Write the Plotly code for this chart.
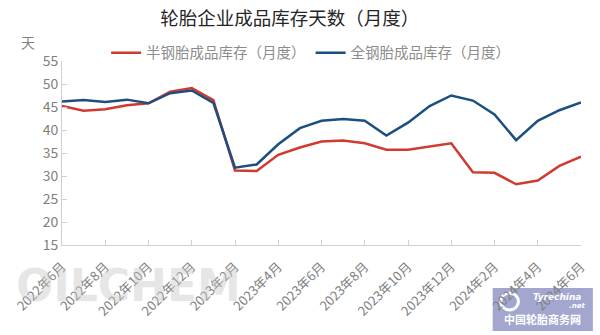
import plotly.graph_objects as go

months = [
    "2022年6月", "2022年7月", "2022年8月", "2022年9月", "2022年10月", "2022年11月",
    "2022年12月", "2023年1月", "2023年2月", "2023年3月", "2023年4月", "2023年5月",
    "2023年6月", "2023年7月", "2023年8月", "2023年9月", "2023年10月", "2023年11月",
    "2023年12月", "2024年1月", "2024年2月", "2024年3月", "2024年4月", "2024年5月",
    "2024年6月",
]
semi_steel = [45.2, 44.2, 44.5, 45.4, 45.8, 48.3, 49.1, 46.5, 31.2, 31.1, 34.6, 36.2,
              37.5, 37.7, 37.1, 35.7, 35.7, 36.4, 37.1, 30.8, 30.7, 28.2, 29.0, 32.2, 34.2]
all_steel = [46.2, 46.5, 46.1, 46.6, 45.8, 48.0, 48.6, 45.9, 31.8, 32.5, 36.9, 40.4,
             42.0, 42.4, 42.0, 38.8, 41.6, 45.2, 47.5, 46.4, 43.4, 37.8, 42.0, 44.3, 46.0]
y_ticks = [15, 20, 25, 30, 35, 40, 45, 50, 55]

FONT = "Noto Sans CJK SC"
x_idx = list(range(len(months)))

# plot-area geometry in pixels, used to place the decorations
L, R, T, B = 61, 584, 61, 245


def px(xp):
    return (xp - L) / (R - L)


def py(yp):
    return (B - yp) / (B - T)


fig = go.Figure()
fig.add_trace(go.Scatter(x=x_idx, y=semi_steel, mode="lines", name="半钢胎成品库存（月度）",
                         line=dict(color="#D03A30", width=2.5)))
fig.add_trace(go.Scatter(x=x_idx, y=all_steel, mode="lines", name="全钢胎成品库存（月度）",
                         line=dict(color="#1B4F82", width=2.5)))

fig.update_layout(
    width=600, height=335,
    margin=dict(l=L, r=600 - R, t=T, b=335 - B),
    paper_bgcolor="white", plot_bgcolor="white",
    font=dict(family=FONT, color="#7F7F7F", size=13),
    title=dict(text="轮胎企业成品库存天数（月度）", x=0.483, xanchor="center",
               y=0.945, yanchor="middle",
               font=dict(family=FONT, size=18.5, color="#262626")),
    showlegend=True,
    legend=dict(orientation="h", x=0.085, xanchor="left", y=1.045, yanchor="middle",
                font=dict(family=FONT, size=14.5, color="#8C8C8C"),
                itemwidth=30, bgcolor="rgba(0,0,0,0)"),
    xaxis=dict(
        range=[0, 24], tickmode="array",
        tickvals=x_idx[::2], ticktext=months[::2],
        tickangle=-45, ticks="inside", ticklen=5, tickcolor="#D0D0D0",
        ticklabelstandoff=8,
        showline=True, linecolor="#D0D0D0", linewidth=1,
        showgrid=False, zeroline=False,
        tickfont=dict(family=FONT, size=13, color="#7F7F7F"),
    ),
    yaxis=dict(
        range=[15, 55], tickmode="array", tickvals=y_ticks,
        ticks="inside", ticklen=5, tickcolor="#D0D0D0",
        showline=True, linecolor="#D0D0D0", linewidth=1,
        showgrid=False, zeroline=False,
        tickfont=dict(family=FONT, size=14, color="#7F7F7F"),
    ),
)

# unit label above the value axis
fig.add_annotation(text="天", xref="paper", yref="paper", x=px(27), y=py(42),
                   xanchor="center", yanchor="middle",
                   showarrow=False, font=dict(family=FONT, size=14, color="#7F7F7F"))

# faint publisher watermark behind the date labels
fig.add_annotation(text="<b>OILCHEM</b>", xref="paper", yref="paper", x=px(128), y=py(285),
                   xanchor="center", yanchor="middle", showarrow=False,
                   font=dict(family="DejaVu Sans", size=44, color="rgba(200,200,200,0.45)"))

# site badge in the lower right corner; date labels stay readable on top of it
fig.add_shape(type="rect", xref="paper", yref="paper",
              x0=px(495), x1=px(596), y0=py(331), y1=py(288),
              fillcolor="rgba(140,145,195,0.8)", line=dict(width=0), layer="below")
fig.add_shape(type="circle", xref="paper", yref="paper",
              x0=px(503), x1=px(521), y0=py(310), y1=py(293),
              fillcolor="rgba(0,0,0,0)", line=dict(color="white", width=3), layer="below")
fig.add_annotation(text="<i><b>Tyrechina</b></i>", xref="paper", yref="paper",
                   x=px(560), y=py(297), xanchor="center", yanchor="middle", showarrow=False,
                   font=dict(family="DejaVu Sans", size=9, color="white"))
fig.add_annotation(text="<i><b>.net</b></i>", xref="paper", yref="paper",
                   x=px(580), y=py(306), xanchor="center", yanchor="middle", showarrow=False,
                   font=dict(family="DejaVu Sans", size=7, color="white"))
fig.add_annotation(text="<b>中国轮胎商务网</b>", xref="paper", yref="paper",
                   x=px(545), y=py(319), xanchor="center", yanchor="middle", showarrow=False,
                   font=dict(family=FONT, size=11, color="white"))

fig.write_html("out.html")
